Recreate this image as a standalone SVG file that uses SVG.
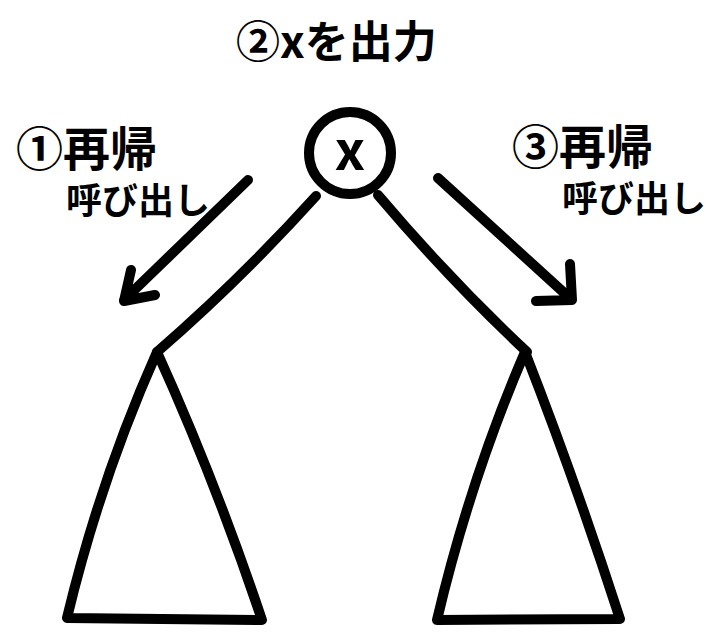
<svg xmlns="http://www.w3.org/2000/svg" width="706" height="632" viewBox="0 0 706 632">
<style>
.ln{fill:none;stroke:#000;stroke-width:10;stroke-linecap:round;stroke-linejoin:round}
.lbl{font-family:"Noto Sans CJK JP","Noto Sans",sans-serif;font-weight:bold;fill:#000}
</style>
<rect width="706" height="632" fill="#fff"/>
<g id="title"><text class="lbl" x="236" y="58" font-size="44">②xを出力</text></g>
<g id="label-left">
<text class="lbl" x="16" y="166" font-size="47">①再帰</text>
<text class="lbl" x="66" y="214" font-size="36">呼び出し</text>
</g>
<g id="label-right">
<text class="lbl" x="512" y="164" font-size="47">③再帰</text>
<text class="lbl" x="562" y="212" font-size="36">呼び出し</text>
</g>
<g id="root">
<circle class="ln" cx="350" cy="153" r="41"/>
<text class="lbl" x="350" y="170" font-size="54" text-anchor="middle">x</text>
</g>
<g id="left-subtree">
<path class="ln" d="M157 352 Q100 480 67 618 L262 620 Q215 480 157 352 Z"/>
</g>
<g id="right-subtree">
<path class="ln" d="M525 352 Q470 480 437 620 L620 619 Q575 480 525 352 Z"/>
</g>
<g id="connectors">
<path class="ln" d="M316 196 Q240 280 157 352"/>
<path class="ln" d="M378 195 Q450 280 527 352"/>
<path class="ln" d="M248 180 L124 300 M131 270 L124 301 L155 295"/>
<path class="ln" d="M438 178 L572 300 M570 264 L572 300 L536 301"/>
</g>
</svg>
